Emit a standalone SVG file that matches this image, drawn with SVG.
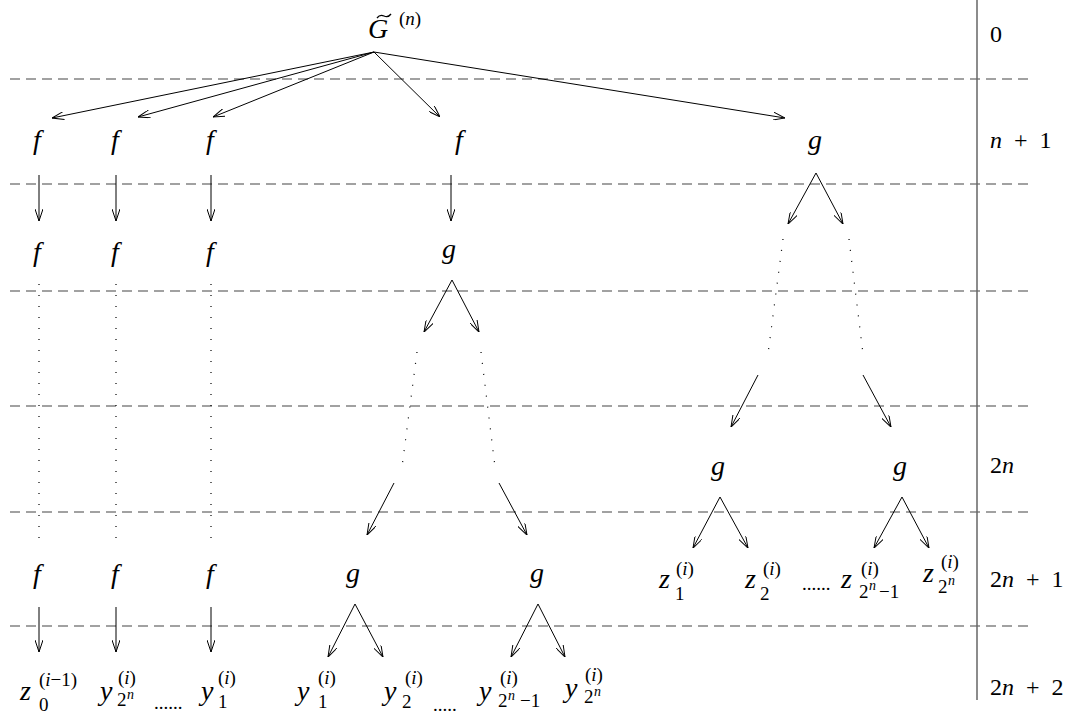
<svg xmlns="http://www.w3.org/2000/svg" width="1081" height="713" viewBox="0 0 1081 713">
<defs>
<marker id="ah" viewBox="0 0 12 8" refX="12" refY="4" markerWidth="12" markerHeight="8" markerUnits="userSpaceOnUse" orient="auto">
<path d="M0,0 L12,4 L0,8" fill="none" stroke="#000" stroke-width="1"/>
</marker>
<style>
text{font-family:'Liberation Serif','DejaVu Serif','Times New Roman',serif;fill:#000}
.m{font-style:italic;font-size:28px}
.r{font-size:24px;word-spacing:6px}
.s{font-size:19px}
.ss{font-style:italic;font-size:14px}
.it{font-style:italic}
.a{stroke:#000;stroke-width:1;fill:none;marker-end:url(#ah)}
.dot{stroke:#000;stroke-width:1.2;fill:none;stroke-dasharray:1,10}
.dash{stroke:#444;stroke-width:1.2;stroke-dasharray:10,6}
</style>
</defs>
<rect width="1081" height="713" fill="#fff"/>
<g id="levels">
<line class="dash" x1="10" y1="79" x2="1028" y2="79"/>
<line class="dash" x1="10" y1="184" x2="1028" y2="184"/>
<line class="dash" x1="10" y1="291" x2="1028" y2="291"/>
<line class="dash" x1="10" y1="406" x2="1028" y2="406"/>
<line class="dash" x1="10" y1="512" x2="1028" y2="512"/>
<line class="dash" x1="10" y1="626" x2="1028" y2="626"/>
<line x1="977" y1="0" x2="977" y2="700" stroke="#666" stroke-width="1.5"/>
<text class="r" x="990" y="42">0</text>
<text class="r" x="990" y="148"><tspan class="it">n</tspan> + 1</text>
<text class="r" x="990" y="473">2<tspan class="it">n</tspan></text>
<text class="r" x="990" y="587">2<tspan class="it">n</tspan> + 1</text>
<text class="r" x="990" y="695">2<tspan class="it">n</tspan> + 2</text>
</g>
<g id="connectors">
<line class="a" x1="374" y1="52" x2="52" y2="118"/>
<line class="a" x1="374" y1="52" x2="138" y2="117"/>
<line class="a" x1="374" y1="52" x2="213" y2="117"/>
<line class="a" x1="374" y1="52" x2="440" y2="117"/>
<line class="a" x1="374" y1="52" x2="785" y2="118"/>
<line class="a" x1="39" y1="175" x2="39" y2="221"/>
<line class="a" x1="116" y1="175" x2="116" y2="221"/>
<line class="a" x1="211" y1="175" x2="211" y2="221"/>
<line class="a" x1="451" y1="175" x2="451" y2="221"/>
<line class="dot" x1="39" y1="284" x2="39" y2="540"/>
<line class="dot" x1="116" y1="284" x2="116" y2="540"/>
<line class="dot" x1="211" y1="284" x2="211" y2="540"/>
<line class="a" x1="39" y1="607" x2="39" y2="652"/>
<line class="a" x1="116" y1="607" x2="116" y2="652"/>
<line class="a" x1="211" y1="607" x2="211" y2="652"/>
<line class="a" x1="452" y1="280" x2="424" y2="332"/>
<line class="a" x1="452" y1="280" x2="479" y2="332"/>
<line class="dot" x1="417" y1="352" x2="402" y2="467"/>
<line class="dot" x1="481" y1="352" x2="495" y2="467"/>
<line class="a" x1="394" y1="483" x2="367" y2="535"/>
<line class="a" x1="499" y1="483" x2="527" y2="535"/>
<line class="a" x1="355" y1="604" x2="328" y2="657"/>
<line class="a" x1="355" y1="604" x2="383" y2="657"/>
<line class="a" x1="538" y1="604" x2="511" y2="657"/>
<line class="a" x1="538" y1="604" x2="565" y2="657"/>
<line class="a" x1="816" y1="173" x2="788" y2="224"/>
<line class="a" x1="816" y1="173" x2="843" y2="224"/>
<line class="dot" x1="783" y1="239" x2="768" y2="354"/>
<line class="dot" x1="849" y1="239" x2="863" y2="354"/>
<line class="a" x1="758" y1="375" x2="731" y2="427"/>
<line class="a" x1="863" y1="375" x2="891" y2="427"/>
<line class="a" x1="720" y1="497" x2="693" y2="548"/>
<line class="a" x1="720" y1="497" x2="748" y2="548"/>
<line class="a" x1="902" y1="497" x2="874" y2="548"/>
<line class="a" x1="902" y1="497" x2="929" y2="548"/>
</g>
<g id="root">
<text class="m" x="368" y="38">G</text>
<path d="M377,18 q3,-4 7,-2 q4,2 7,-2" fill="none" stroke="#000" stroke-width="1.3"/>
<text class="s" x="399" y="25">(<tspan class="it">n</tspan>)</text>
</g>
<g id="row1">
<text class="m" x="37" y="149" text-anchor="middle">f</text>
<text class="m" x="115" y="149" text-anchor="middle">f</text>
<text class="m" x="210" y="149" text-anchor="middle">f</text>
<text class="m" x="459" y="149" text-anchor="middle">f</text>
<text class="m" x="815" y="149" text-anchor="middle">g</text>
</g>
<g id="row2">
<text class="m" x="37" y="261" text-anchor="middle">f</text>
<text class="m" x="115" y="261" text-anchor="middle">f</text>
<text class="m" x="210" y="261" text-anchor="middle">f</text>
<text class="m" x="449" y="258" text-anchor="middle">g</text>
</g>
<g id="row2n">
<text class="m" x="718" y="475" text-anchor="middle">g</text>
<text class="m" x="900" y="475" text-anchor="middle">g</text>
</g>
<g id="row2n1">
<text class="m" x="37" y="583" text-anchor="middle">f</text>
<text class="m" x="115" y="583" text-anchor="middle">f</text>
<text class="m" x="210" y="583" text-anchor="middle">f</text>
<text class="m" x="353" y="582" text-anchor="middle">g</text>
<text class="m" x="537" y="582" text-anchor="middle">g</text>
</g>
<g id="zlabels">
<text class="m" x="659" y="588">z</text>
<text class="s" x="676" y="575">(<tspan class="it">i</tspan>)</text>
<text class="s" x="675" y="600">1</text>
<text class="m" x="745" y="588">z</text>
<text class="s" x="763" y="575">(<tspan class="it">i</tspan>)</text>
<text class="s" x="760" y="600">2</text>
<text class="s" x="802" y="590">......</text>
<text class="m" x="841" y="588">z</text>
<text class="s" x="861" y="575">(<tspan class="it">i</tspan>)</text>
<text class="s" x="859" y="598">2</text>
<text class="ss" x="869" y="590">n</text>
<text class="s" x="879" y="598">−1</text>
<text class="m" x="923" y="582">z</text>
<text class="s" x="941" y="568">(<tspan class="it">i</tspan>)</text>
<text class="s" x="938" y="593">2</text>
<text class="ss" x="948" y="585">n</text>
</g>
<g id="ylabels">
<text class="m" x="20" y="700">z</text>
<text class="s" x="39" y="686">(<tspan class="it">i</tspan>−1)</text>
<text class="s" x="39" y="711">0</text>
<text class="m" x="100" y="700">y</text>
<text class="s" x="118" y="684">(<tspan class="it">i</tspan>)</text>
<text class="s" x="117" y="706">2</text>
<text class="ss" x="127" y="699">n</text>
<text class="s" x="154" y="709">......</text>
<text class="m" x="201" y="700">y</text>
<text class="s" x="218" y="684">(<tspan class="it">i</tspan>)</text>
<text class="s" x="218" y="708">1</text>
<text class="m" x="297" y="700">y</text>
<text class="s" x="318" y="684">(<tspan class="it">i</tspan>)</text>
<text class="s" x="318" y="708">1</text>
<text class="m" x="384" y="700">y</text>
<text class="s" x="405" y="684">(<tspan class="it">i</tspan>)</text>
<text class="s" x="402" y="708">2</text>
<text class="s" x="433" y="711">.....</text>
<text class="m" x="479" y="700">y</text>
<text class="s" x="500" y="684">(<tspan class="it">i</tspan>)</text>
<text class="s" x="498" y="707">2</text>
<text class="ss" x="508" y="700">n</text>
<text class="s" x="520" y="707">−1</text>
<text class="m" x="565" y="697">y</text>
<text class="s" x="585" y="681">(<tspan class="it">i</tspan>)</text>
<text class="s" x="584" y="703">2</text>
<text class="ss" x="594" y="696">n</text>
</g>
</svg>
